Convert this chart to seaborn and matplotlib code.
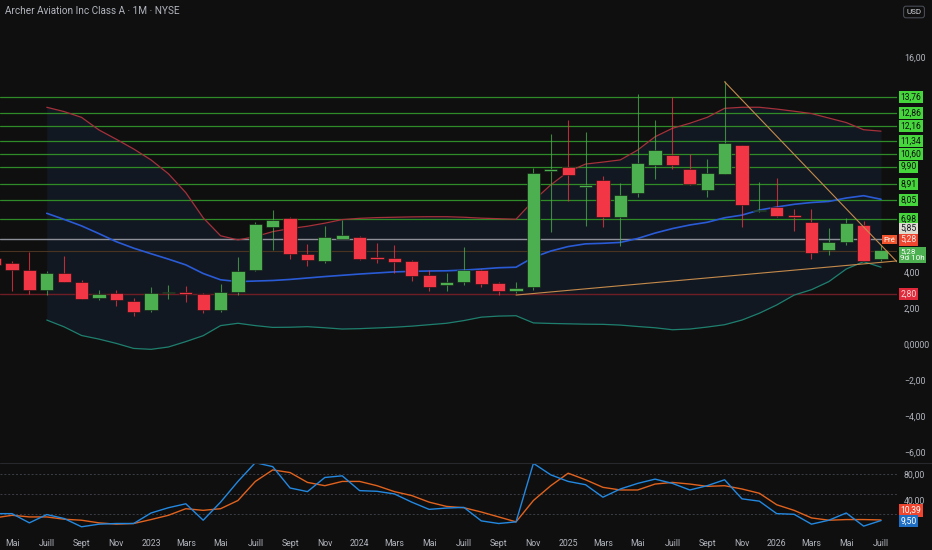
import numpy as np
import pandas as pd
import matplotlib
matplotlib.use("Agg")
import matplotlib.pyplot as plt
import matplotlib.transforms as mtransforms
from matplotlib.lines import Line2D
import seaborn as sns

# ---------------- data ----------------
month_labels = ["Avr 22", "Mai 22", "Juin 22", "Juill 22", "Août 22", "Sept 22", "Oct 22", "Nov 22", "Déc 22",
                "Janv 23", "Févr 23", "Mars 23", "Avr 23", "Mai 23", "Juin 23", "Juill 23", "Août 23", "Sept 23",
                "Oct 23", "Nov 23", "Déc 23", "Janv 24", "Févr 24", "Mars 24", "Avr 24", "Mai 24", "Juin 24",
                "Juill 24", "Août 24", "Sept 24", "Oct 24", "Nov 24", "Déc 24", "Janv 25", "Févr 25", "Mars 25",
                "Avr 25", "Mai 25", "Juin 25", "Juill 25", "Août 25", "Sept 25", "Oct 25", "Nov 25", "Déc 25",
                "Janv 26", "Févr 26", "Mars 26", "Avr 26", "Mai 26", "Juin 26", "Juill 26"]

opens = [4.81, 4.55, 4.16, 3.02, 4.00, 3.48, 2.60, 2.87, 2.44,
         1.90, 2.90, 2.92, 2.81, 1.92, 2.92, 4.15, 6.52, 7.02, 5.04, 4.66, 5.87,
         5.98, 4.89, 4.80, 4.63, 3.85, 3.30, 3.48, 4.13, 3.40, 3.00, 3.18, 9.67,
         9.90, 8.78, 9.15, 7.08, 8.45, 9.97, 10.56, 9.77, 8.60, 9.47, 11.08, 7.42,
         7.67, 7.20, 6.82, 5.26, 5.72, 6.63, 4.76]
highs = [5.10, 4.65, 5.16, 4.09, 4.94, 3.60, 3.05, 3.04, 2.60,
         3.20, 3.30, 3.24, 2.85, 3.35, 4.85, 6.83, 7.48, 7.11, 5.59, 6.60, 6.93,
         6.05, 5.66, 5.54, 4.70, 4.14, 4.00, 5.44, 4.20, 3.50, 3.48, 9.80, 11.70,
         12.49, 11.84, 9.38, 9.00, 13.92, 12.49, 13.76, 10.60, 10.32, 14.66, 11.10, 9.06,
         9.28, 7.56, 7.52, 6.47, 7.02, 6.89, 5.54]
lows = [4.30, 3.00, 2.83, 2.75, 3.45, 2.52, 2.48, 2.14, 1.59,
        1.80, 2.53, 2.37, 1.74, 1.80, 2.75, 4.10, 5.26, 4.74, 4.39, 4.55, 5.85,
        4.72, 4.55, 4.00, 3.56, 2.98, 3.00, 3.31, 3.20, 2.73, 2.87, 3.05, 6.24,
        8.00, 6.61, 6.55, 5.48, 8.19, 9.23, 9.75, 8.88, 8.19, 9.47, 6.55, 7.39,
        7.12, 6.33, 4.76, 4.98, 5.54, 4.62, 4.66]
closes = [4.45, 4.13, 3.03, 4.00, 3.48, 2.55, 2.79, 2.46, 1.81,
          2.87, 2.96, 2.81, 1.92, 2.94, 4.09, 6.70, 6.93, 5.02, 4.70, 5.96, 6.11,
          4.77, 4.77, 4.57, 3.83, 3.22, 3.50, 4.15, 3.37, 2.99, 3.13, 9.56, 9.75,
          9.43, 8.88, 7.08, 8.32, 10.08, 10.82, 10.00, 8.93, 9.56, 11.21, 7.76, 7.50,
          7.17, 7.10, 5.11, 5.70, 6.78, 4.66, 5.28]

# Bollinger bands (start at Juill 22)
bb_start = 3
bb_upper = [13.20, 12.96, 12.64, 11.94, 11.42, 10.88,
            10.27, 9.50, 8.45, 7.05, 6.05, 5.82, 6.00, 6.28, 6.45, 6.58, 6.75, 6.95,
            7.02, 7.06, 7.08, 7.10, 7.11, 7.11, 7.08, 7.03, 7.00, 6.97, 8.00, 8.88,
            9.62, 10.04, 10.15, 10.27, 10.82, 11.56, 12.03, 12.31, 12.64, 13.14, 13.20, 13.20,
            13.10, 12.98, 12.85, 12.60, 12.35, 11.95, 11.87]
bb_mid = [7.30, 6.96, 6.60, 6.17, 5.72, 5.36,
          5.05, 4.75, 4.43, 3.95, 3.60, 3.50, 3.53, 3.56, 3.62, 3.70, 3.78, 3.85,
          3.92, 3.98, 4.04, 4.07, 4.09, 4.10, 4.14, 4.20, 4.27, 4.30, 4.85, 5.20,
          5.45, 5.60, 5.63, 5.68, 5.90, 6.20, 6.45, 6.65, 6.80, 7.05, 7.20, 7.48,
          7.65, 7.80, 7.90, 7.96, 8.15, 8.28, 8.08]
bb_lower = [1.36, 0.98, 0.50, 0.30, 0.06, -0.22,
            -0.27, -0.14, 0.16, 0.49, 1.05, 1.18, 1.05, 0.95, 0.96, 0.99, 0.93, 0.86,
            0.88, 0.92, 0.96, 1.02, 1.10, 1.18, 1.33, 1.52, 1.58, 1.60, 1.20, 1.17,
            1.15, 1.13, 1.12, 1.08, 1.00, 0.93, 0.82, 0.86, 0.97, 1.10, 1.36, 1.74,
            2.20, 2.75, 3.05, 3.50, 4.20, 4.61, 4.30]

# Stochastic RSI
stoch_k = [20, 20, 6, 18.6, 12.6, 0, 4, 5, 5,
           21, 29, 35, 10, 37.5, 69, 97.5, 91.5, 59, 53.5, 75, 77.5,
           55, 54, 50, 37.5, 26.5, 28.5, 29.5, 9, 5, 7.5, 96.5, 79,
           69, 64, 45, 57.5, 66, 72.5, 66, 56, 62.5, 71.5, 42.5, 39,
           20, 19, 4, 10, 21, 1, 9.5]
stoch_d = [13.5, 17.5, 15, 15, 11.5, 10, 6, 4, 5,
           11, 17.5, 27.5, 25, 27.5, 40, 69, 86.5, 82.5, 67.5, 62.5, 69,
           69, 62.5, 53.5, 47.5, 37.5, 31, 29, 22.5, 15, 7.5, 40, 62.5,
           81.5, 71.5, 60, 56, 56, 65, 67.5, 65, 61.5, 62.5, 57.5, 51,
           33.5, 25, 13.5, 10, 11, 11, 10.39]

# Horizontal levels (green) and other lines
levels = [13.76, 12.86, 12.16, 11.34, 10.60, 9.90, 8.91, 8.05, 6.98]
level_gray = 5.85
level_red = 2.80
last_price = 5.28

# Trend lines (month index, price)
trend_up_x = [30, 51.92]
trend_up_y = [2.75, 4.65]
trend_dn_x = [42, 51.92]
trend_dn_y = [14.62, 4.60]

tick_labels = ["Mai", "Juill", "Sept", "Nov", "2023", "Mars", "Mai", "Juill", "Sept", "Nov",
               "2024", "Mars", "Mai", "Juill", "Sept", "Nov", "2025", "Mars", "Mai", "Juill",
               "Sept", "Nov", "2026", "Mars", "Mai", "Juill"]
price_ticks = [16, 4, 2, 0, -2, -4, -6]
price_tick_labels = ["16,00", "4,00", "2,00", "0,0000", "−2,00", "−4,00", "−6,00"]
osc_ticks = [80, 40]
osc_tick_labels = ["80,00", "40,00"]

# ---------------- style ----------------
BG = "#0f0f0f"
TXT = "#b2b5be"
GREEN = "#4caf50"
RED = "#f23645"

sns.set_theme(style="dark", rc={
    "figure.facecolor": BG, "axes.facecolor": BG, "axes.edgecolor": BG,
    "axes.grid": False, "text.color": TXT, "xtick.color": TXT, "ytick.color": TXT,
})
plt.rcParams["font.family"] = ["Roboto", "DejaVu Sans"]

n = len(closes)
idx = np.arange(n)
df = pd.DataFrame({"i": idx, "o": opens, "h": highs, "l": lows, "c": closes,
                   "k": stoch_k, "d": stoch_d, "label": month_labels})
bb = pd.DataFrame({"i": idx[bb_start:], "upper": bb_upper, "mid": bb_mid, "lower": bb_lower})

W, H = 932, 550
fig = plt.figure(figsize=(W / 100, H / 100), dpi=100)
fig.patch.set_facecolor(BG)
right_px = 897
ax = fig.add_axes([0, (H - 462) / H, right_px / W, 462 / H])
ax2 = fig.add_axes([0, (H - 531) / H, right_px / W, (531 - 464) / H])

XL = (0.3095, 51.92)
for a in (ax, ax2):
    a.set_facecolor(BG)
    a.set_xlim(*XL)
    for s in a.spines.values():
        s.set_visible(False)
ax.set_ylim(-6.54, 19.17)
ax2.set_ylim(-6.4, 95.5)

# Bollinger fill + lines
ax.fill_between(bb["i"], bb["lower"], bb["upper"], color="#121821", lw=0, zorder=0.5)
sns.lineplot(data=bb, x="i", y="upper", ax=ax, color="#a5313b", lw=0.9, zorder=2)
sns.lineplot(data=bb, x="i", y="mid", ax=ax, color="#2a5bd7", lw=1.2, zorder=2)
sns.lineplot(data=bb, x="i", y="lower", ax=ax, color="#1e7f6e", lw=0.9, zorder=2)

# horizontal levels
for lv in levels:
    ax.axhline(lv, color="#2f8a28", lw=0.9, zorder=1)
ax.axhline(level_gray, color="#8d9099", lw=1.0, zorder=1)
ax.axhline(level_red, color="#6e1c25", lw=1.0, zorder=1)
ax.axhline(last_price - 0.06, color="#4a3320", lw=0.8, zorder=1)

# candles
for _, r in df.iterrows():
    col = GREEN if r.c >= r.o else RED
    ax.vlines(r.i, r.l, r.h, color=col, lw=0.8, alpha=0.75, zorder=3)
    body = r.c - r.o
    if abs(body) < 0.07:
        bottom = min(r.o, r.c) - 0.035
        body = 0.07
    else:
        bottom = r.o
    ax.bar(r.i, body, bottom=bottom, width=0.76, color=col, edgecolor="#111", lw=0.4, zorder=4)

# trend lines
ax.plot(trend_up_x, trend_up_y, color="#c48a4c", lw=0.8, zorder=5)
ax.plot(trend_dn_x, trend_dn_y, color="#c48a4c", lw=0.8, zorder=5)

# right price axis
ax.yaxis.tick_right()
ax.set_yticks(price_ticks)
ax.set_yticklabels(price_tick_labels)
ax.tick_params(axis="y", length=0, pad=5, labelsize=6.3, labelcolor=TXT)
ax.set_xticks(np.arange(1, n, 2))
ax.tick_params(axis="x", length=0, labelbottom=False)
ax.set_xlabel("")
ax.set_ylabel("")

trans = mtransforms.blended_transform_factory(ax.transAxes, ax.transData)

def pbox(a, tr, y, text, fc, tc, dy=0.0, fs=6.2):
    a.annotate(text, xy=(1.0, y), xycoords=tr, xytext=(2.4, dy), textcoords="offset points",
               ha="left", va="center", fontsize=fs, color=tc, zorder=20,
               bbox=dict(boxstyle="square,pad=0.18", fc=fc, ec="none"),
               annotation_clip=False)

for lv in levels:
    pbox(ax, trans, lv, f"{lv:.2f}".replace(".", ","), "#45d63c", "#0f0f0f")
pbox(ax, trans, level_gray, "5,85", "#dedbd0", "#131722", dy=7.7)
pbox(ax, trans, last_price, "5,28", "#f0452f", "#fbe9e7", dy=7.2)
pbox(ax, trans, last_price, "5,28\n9d 10h", GREEN, "#ffffff", dy=-3.6, fs=5.9)
pbox(ax, trans, level_red, "2,80", "#e02a3c", "#f5d5d5")
ax.annotate("Pré", xy=(1.0, last_price), xycoords=trans, xytext=(-1.0, 7.2),
            textcoords="offset points", ha="right", va="center", fontsize=5.8, color="#ffffff",
            zorder=20, bbox=dict(boxstyle="square,pad=0.18", fc="#f0552e", ec="none"),
            annotation_clip=False)

# ---------------- oscillator ----------------
for lv in (80, 50, 20):
    ax2.axhline(lv, color="#3b3e46", lw=0.7, ls=(0, (2, 2)), zorder=1)
sns.lineplot(data=df, x="i", y="d", ax=ax2, color="#e0621e", lw=1.0, zorder=3)
sns.lineplot(data=df, x="i", y="k", ax=ax2, color="#2388e0", lw=1.0, zorder=4)
ax2.yaxis.tick_right()
ax2.set_yticks(osc_ticks)
ax2.set_yticklabels(osc_tick_labels)
ax2.tick_params(axis="y", length=0, pad=5, labelsize=6.3, labelcolor=TXT)
ax2.set_xticks(np.arange(1, n, 2))
ax2.set_xticklabels(tick_labels)
ax2.tick_params(axis="x", length=0, pad=6, labelsize=6.3, labelcolor=TXT)
ax2.set_xlabel("")
ax2.set_ylabel("")
trans2 = mtransforms.blended_transform_factory(ax2.transAxes, ax2.transData)
pbox(ax2, trans2, stoch_d[-1], "10,39", "#f0452f", "#ffffff", dy=6.8)
pbox(ax2, trans2, stoch_k[-1], "9,50", "#1f6fc4", "#ffffff", dy=-0.4)

# separator + title + currency
fig.add_artist(Line2D([0, 1], [(H - 463) / H] * 2, color="#26282e", lw=0.8))
fig.text(5 / W, 1 - 11 / H, "Archer Aviation Inc Class A · 1M · NYSE", fontsize=7.2,
         color=TXT, ha="left", va="center")
fig.text(914 / W, 1 - 12 / H, "USD", fontsize=5.8, color="#d1d4dc", ha="center", va="center",
         bbox=dict(boxstyle="round,pad=0.35,rounding_size=0.3", fc=BG, ec="#50535e", lw=0.7))

fig.savefig("out.png", dpi=100, facecolor=BG)
